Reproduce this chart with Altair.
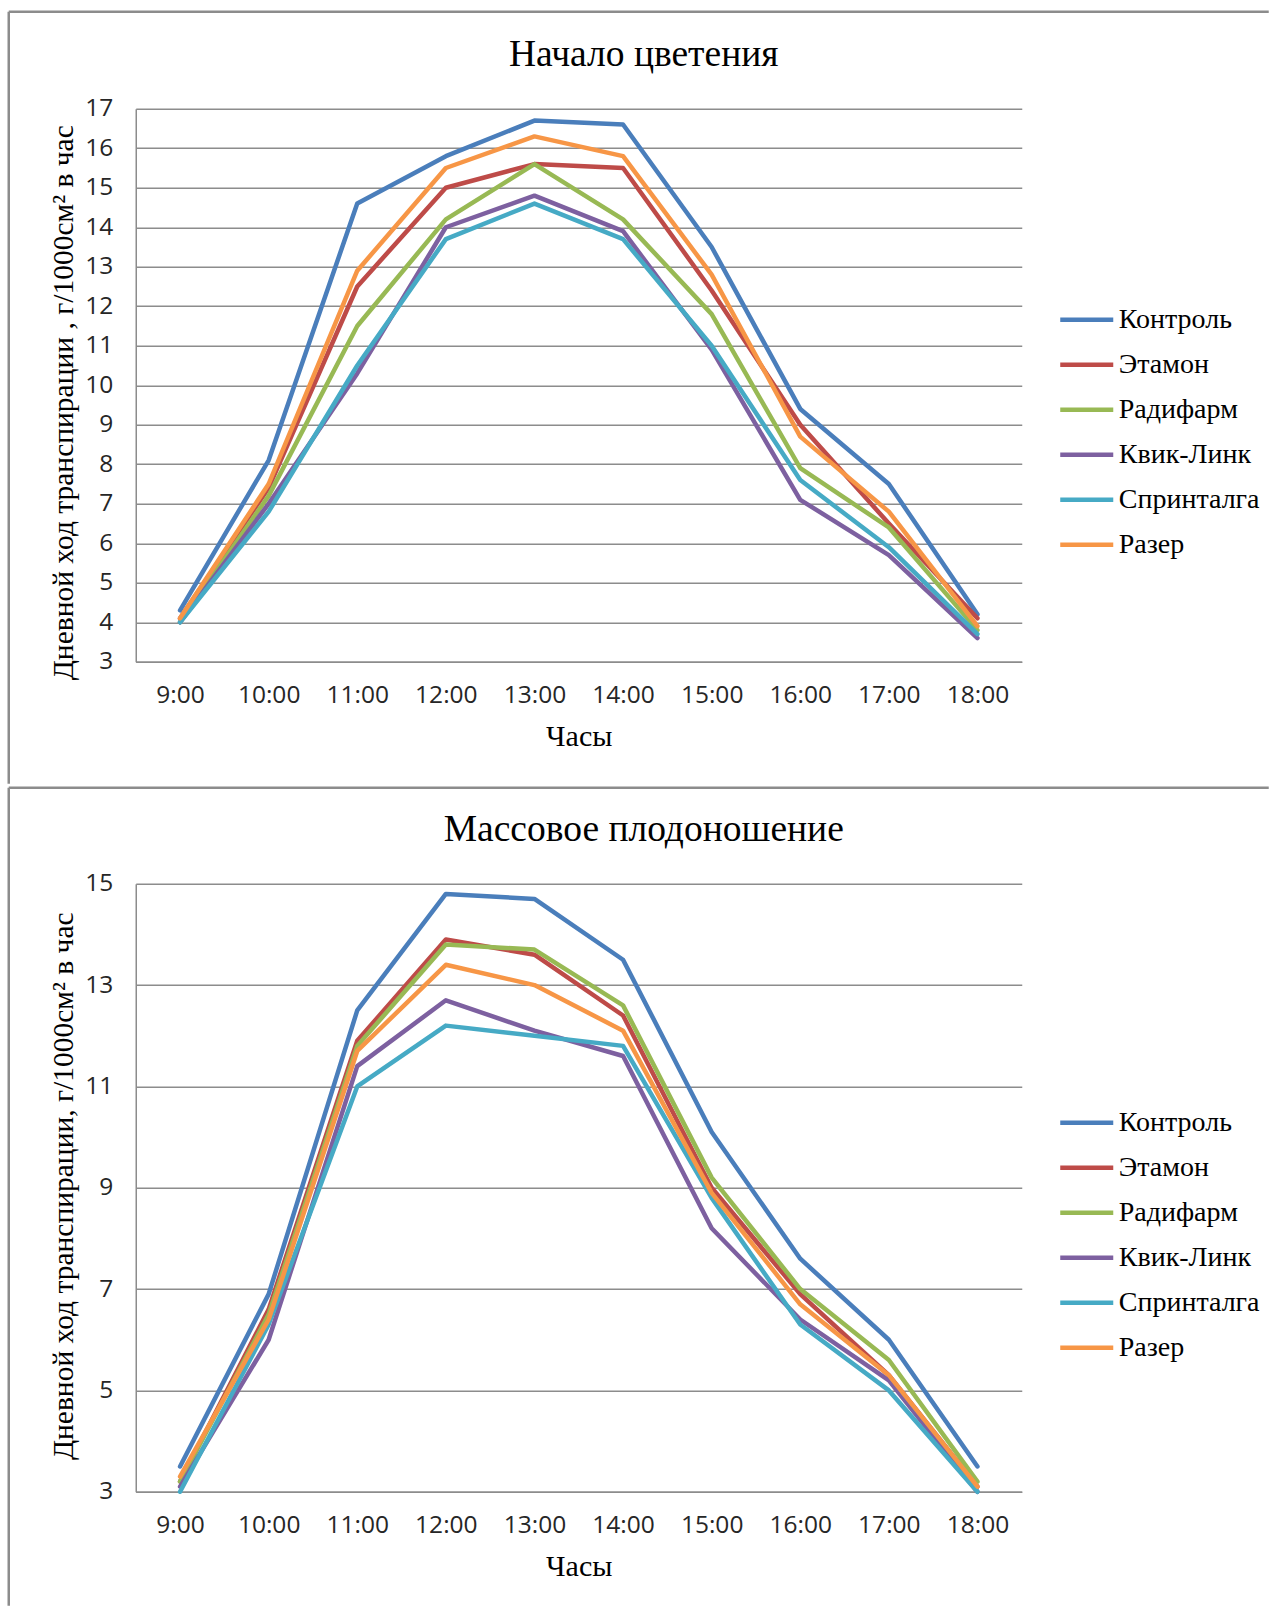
import altair as alt
import pandas as pd

hours = ["9:00", "10:00", "11:00", "12:00", "13:00", "14:00", "15:00", "16:00", "17:00", "18:00"]
series_names = ["Контроль", "Этамон", "Радифарм", "Квик-Линк", "Спринталга", "Разер"]
series_colors = ["#4A7EBB", "#BE4B48", "#98B954", "#7D60A0", "#46AAC5", "#F79646"]

# Начало цветения
top_kontrol = [4.3, 8.1, 14.6, 15.8, 16.7, 16.6, 13.5, 9.4, 7.5, 4.2]
top_etamon = [4.1, 7.4, 12.5, 15.0, 15.6, 15.5, 12.4, 9.0, 6.5, 4.1]
top_radifarm = [4.0, 7.2, 11.5, 14.2, 15.6, 14.2, 11.8, 7.9, 6.4, 3.8]
top_kvik = [4.0, 7.0, 10.3, 14.0, 14.8, 13.9, 10.9, 7.1, 5.7, 3.6]
top_sprint = [4.0, 6.8, 10.5, 13.7, 14.6, 13.7, 11.0, 7.6, 5.9, 3.7]
top_razer = [4.1, 7.5, 12.9, 15.5, 16.3, 15.8, 12.8, 8.7, 6.8, 3.9]

# Массовое плодоношение
bot_kontrol = [3.5, 6.9, 12.5, 14.8, 14.7, 13.5, 10.1, 7.6, 6.0, 3.5]
bot_etamon = [3.2, 6.6, 11.9, 13.9, 13.6, 12.4, 9.0, 6.9, 5.3, 3.1]
bot_radifarm = [3.2, 6.5, 11.8, 13.8, 13.7, 12.6, 9.2, 7.0, 5.6, 3.2]
bot_kvik = [3.1, 6.0, 11.4, 12.7, 12.1, 11.6, 8.2, 6.4, 5.2, 3.0]
bot_sprint = [3.0, 6.3, 11.0, 12.2, 12.0, 11.8, 8.8, 6.3, 5.0, 3.0]
bot_razer = [3.3, 6.4, 11.7, 13.4, 13.0, 12.1, 8.9, 6.7, 5.3, 3.1]

top_title = "Начало цветения"
bot_title = "Массовое плодоношение"
top_ytitle = "Дневной ход транспирации , г/1000см² в час"
bot_ytitle = "Дневной ход транспирации, г/1000см² в час"
x_title = "Часы"
top_ticks = list(range(3, 18))
bot_ticks = list(range(3, 16, 2))


def long_df(cols):
    rows = []
    for name, vals in zip(series_names, cols):
        for h, v in zip(hours, vals):
            rows.append({"hour": h, "series": name, "value": v})
    return pd.DataFrame(rows)


W = 886
FRAME = "#8c8c8c"
GRID = "#8c8c8c"
one = pd.DataFrame({"k": [0]})


def panel(df, title, ytitle, ydom, yticks, H, ftop, fbottom, ytitle_y, legend_y):
    frame_h = alt.Chart(one).mark_rule(color=FRAME, strokeWidth=2.5).encode(
        x=alt.value(-127), x2=alt.value(1133), y=alt.value(ftop))
    frame_v = alt.Chart(one).mark_rule(color=FRAME, strokeWidth=2.5).encode(
        x=alt.value(-127), y=alt.value(ftop), y2=alt.value(fbottom))
    ttl = alt.Chart(one).mark_text(
        font="Liberation Serif", fontSize=37.5, color="black",
        align="center", baseline="middle").encode(
        x=alt.value(W / 2 + 65), y=alt.value(-54), text=alt.value(title))
    lines = alt.Chart(df).mark_line(strokeWidth=4.5, strokeJoin="round", strokeCap="round").encode(
        x=alt.X("hour:N", sort=hours,
                scale=alt.Scale(type="point", padding=0.5),
                axis=alt.Axis(labelAngle=0, ticks=False, tickSize=0, grid=False,
                              domainColor=GRID, domainWidth=1.5,
                              labelFont="Open Sans", labelFontSize=24.5, labelColor="#262626",
                              labelPadding=34, labelBaseline="middle",
                              title=x_title, titleFont="Liberation Serif", titleFontSize=30,
                              titleFontWeight="normal", titleColor="black",
                              titleY=74.5, titleBaseline="middle")),
        y=alt.Y("value:Q",
                scale=alt.Scale(domain=ydom, nice=False, zero=False),
                axis=alt.Axis(values=yticks, ticks=False, tickSize=0, grid=True,
                              gridColor=GRID, gridWidth=1.3,
                              domainColor=GRID, domainWidth=1.5,
                              labelFont="Open Sans", labelFontSize=24.5, labelColor="#262626",
                              labelPadding=23,
                              title=ytitle, titleFont="Liberation Serif", titleFontSize=29.5,
                              titleFontWeight="normal", titleColor="black",
                              titleAngle=270, titleX=-72, titleY=ytitle_y,
                              titleAlign="center", titleBaseline="middle")),
        color=alt.Color("series:N", sort=series_names,
                        scale=alt.Scale(domain=series_names, range=series_colors),
                        legend=alt.Legend(orient="none", legendX=937, legendY=legend_y,
                                          title=None, symbolType="M-6.4,0L6.4,0",
                                          symbolSize=68.6, symbolStrokeWidth=4.5,
                                          labelFont="Liberation Serif", labelFontSize=28,
                                          labelColor="black", labelOffset=18, rowPadding=17,
                                          padding=0)),
        order=alt.Order("series_idx:Q"),
    ).transform_calculate(
        series_idx="indexof(%s, datum.series)" % str(series_names)
    )
    return alt.layer(frame_h, frame_v, ttl, lines).properties(width=W, height=H)


top = panel(long_df([top_kontrol, top_etamon, top_radifarm, top_kvik, top_sprint, top_razer]),
            top_title, top_ytitle, [3, 17], top_ticks, 553, -97, 675, 293.5, 197)
bot = panel(long_df([bot_kontrol, bot_etamon, bot_radifarm, bot_kvik, bot_sprint, bot_razer]),
            bot_title, bot_ytitle, [3, 15], bot_ticks, 608, -96, 722, 302, 225)

chart = alt.vconcat(top, bot, spacing=0).resolve_scale(
    color="independent"
).resolve_legend(
    color="independent"
).properties(
    padding={"left": 6.75, "top": 9.75, "right": 0, "bottom": 0},
    background="white",
).configure_view(strokeWidth=0)

chart.save("out.html", embed_options={"renderer": "svg", "actions": False})
